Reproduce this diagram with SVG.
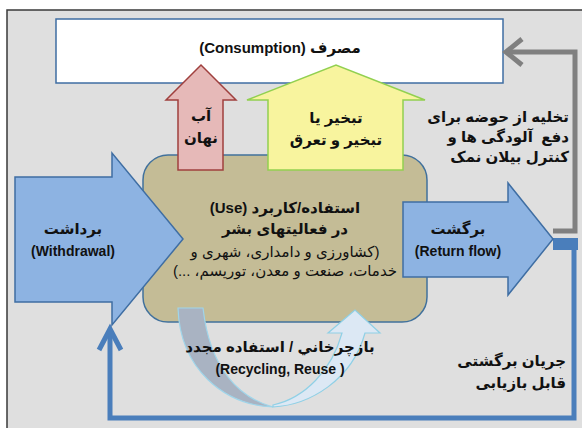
<svg xmlns="http://www.w3.org/2000/svg" width="582" height="428" viewBox="0 0 582 428">
<style>
.t{font-family:'Liberation Sans','DejaVu Sans',sans-serif;font-weight:bold;fill:#111;}
.fa{font-size:15px;direction:rtl;}
.en{font-size:14px;}
.reg{font-weight:normal;}
.barrow{fill:#8db3e2;stroke:#3f6ea3;stroke-width:1.5;}
</style>
<rect x="0" y="0" width="582" height="428" fill="#ffffff"/>
<rect x="7" y="10" width="580" height="425" fill="#dfdfdf" stroke="#3a3a3a" stroke-width="1.5"/>

<g id="consumption">
<rect x="56" y="19" width="447" height="64" fill="#ffffff" stroke="#3f6ea3" stroke-width="1.5"/>
<text class="t fa" x="280" y="53" text-anchor="middle" font-size="15">مصرف (Consumption)</text>
</g>

<g id="connectors" fill="none" stroke-linejoin="miter">
<polyline points="553,231 575,231 575,52 506,52" stroke="#808080" stroke-width="5"/>
<polyline points="522,39 506,52 522,65" stroke="#808080" stroke-width="5"/>
<rect x="553" y="238" width="25" height="12" fill="#4a7ebb" stroke="none"/>
<polyline points="574,244 574,418 110,418 110,330" stroke="#4a7ebb" stroke-width="5"/>
<polyline points="99,350 110,329 121,350" stroke="#4a7ebb" stroke-width="5"/>
</g>

<g id="use">
<rect x="143" y="155" width="284" height="167" rx="25" ry="25" fill="#c4bc96" stroke="#41719c" stroke-width="1.5"/>
<text class="t fa" x="285" y="213" text-anchor="middle">استفاده/کاربرد (Use)</text>
<text class="t fa" x="285" y="234" text-anchor="middle">در فعالیتهای بشر</text>
<text class="t fa reg" x="285" y="257" text-anchor="middle">(کشاورزی و دامداری، شهری و</text>
<text class="t fa reg" x="285" y="276" text-anchor="middle">خدمات، صنعت و معدن، توریسم، ...)</text>
</g>

<g id="withdrawal">
<polygon class="barrow" points="15,177 112,177 112,153 183,239 112,325 112,302 15,302"/>
<text class="t fa" x="73" y="234" text-anchor="middle">برداشت</text>
<text class="t en" x="73" y="256" text-anchor="middle">(Withdrawal)</text>
</g>

<g id="return-flow">
<polygon class="barrow" points="403,202 508,202 508,183 553,239 508,295 508,277 403,277"/>
<text class="t fa" x="458" y="234" text-anchor="middle">برگشت</text>
<text class="t en" x="458" y="256" text-anchor="middle">(Return flow)</text>
</g>

<g id="hidden-water">
<polygon points="178,170 178,100 166,100 201,65 236,100 223,100 223,170" fill="#e6b9b8" stroke="#a0403e" stroke-width="1.5"/>
<text class="t fa" x="201" y="121" text-anchor="middle">آب</text>
<text class="t fa" x="201" y="143" text-anchor="middle">نهان</text>
</g>

<g id="evaporation">
<polygon points="268,170 268,100 247,100 336,65 425,100 403,100 403,170" fill="#f8f49e" stroke="#92d050" stroke-width="1.5"/>
<text class="t fa" x="336" y="123" text-anchor="middle">تبخیر یا</text>
<text class="t fa" x="336" y="145" text-anchor="middle">تبخیر و تعرق</text>
</g>

<g id="recycling">
<path d="M178,308 C180,370 225,405 273,407 C240,398 210,370 203,308 Z" fill="#a9b3c2" stroke="#9fd5ea" stroke-width="1.2"/>
<path d="M273,407 C310,405 352,380 365,333 L380,333 L355,310 L328,333 L342,333 C332,370 305,398 273,405 Z" fill="#dce8f4" stroke="#8fd0e6" stroke-width="1.2"/>
<text class="t fa" x="280" y="352" text-anchor="middle">بازچرخاني / استفاده مجدد</text>
<text class="t en" x="280" y="374" text-anchor="middle">(Recycling, Reuse )</text>
</g>

<g id="drainage-label">
<text class="t fa" x="569" y="122" text-anchor="start">تخلیه از حوضه برای</text>
<text class="t fa" x="569" y="142" text-anchor="start" style="white-space:pre">دفع  آلودگی ها و</text>
<text class="t fa" x="569" y="162" text-anchor="start">کنترل بیلان نمک</text>
</g>

<g id="recoverable-label">
<text class="t fa" x="566" y="366" text-anchor="start">جریان برگشتی</text>
<text class="t fa" x="566" y="388" text-anchor="start">قابل بازیابی</text>
</g>
</svg>
